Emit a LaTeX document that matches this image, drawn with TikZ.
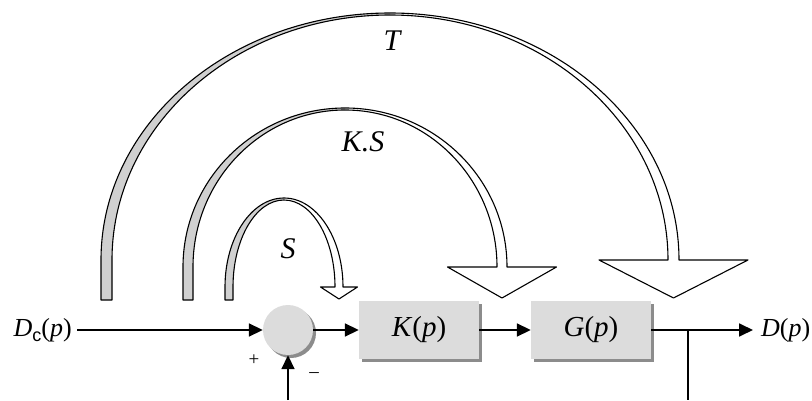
\documentclass[tikz,border=0pt]{standalone}
\usepackage{fontspec}
\setmainfont{Liberation Serif}
\newfontfamily\arialf{Liberation Sans}
\usetikzlibrary{arrows.meta,shadows}
\definecolor{boxgray}{HTML}{DCDCDC}
\definecolor{shadowgray}{HTML}{8C8C8C}
\definecolor{ribgray}{HTML}{D0D0D0}
% #1 cx, #2 cy (head top), #3 a, #4 b (outer radii), #5 ain, #6 bin (inner radii), #7 head half width, #8 tip y
\newcommand\myribbon[8]{%
  \pgfmathsetmacro\rmid{(#3+#5)/2}%
  \fill[white] (#1-#3,100) -- (#1-#3,#2) arc[start angle=180,end angle=0,x radius=#3,y radius=#4]
     -- (#1+\rmid+#7,#2) -- (#1+\rmid,#8) -- (#1+\rmid-#7,#2) -- (#1+#5,#2)
     arc[start angle=0,end angle=180,x radius=#5,y radius=#6] -- (#1-#5,100) -- cycle;
  \fill[ribgray] (#1-#3,100) -- (#1-#3,#2) arc[start angle=180,end angle=90,x radius=#3,y radius=#4]
     -- (#1,#2+#6) arc[start angle=90,end angle=180,x radius=#5,y radius=#6] -- (#1-#5,100) -- cycle;
  \draw[ribline] (#1-#3,100) -- (#1-#3,#2) arc[start angle=180,end angle=0,x radius=#3,y radius=#4]
     -- (#1+\rmid+#7,#2) -- (#1+\rmid,#8) -- (#1+\rmid-#7,#2) -- (#1+#5,#2)
     arc[start angle=0,end angle=180,x radius=#5,y radius=#6] -- (#1-#5,100) -- cycle;
}
\begin{document}
\begin{tikzpicture}[x=1pt,y=1pt,
  ribline/.style={line width=1.1pt,line join=round,black},
  sig/.style={line width=1.8pt,-{Triangle[length=14pt,width=13pt]}},
  wire/.style={line width=1.8pt},
  block/.style={fill=boxgray,minimum width=120pt,minimum height=58pt,inner sep=0pt,
    drop shadow={shadow xshift=3pt,shadow yshift=-3pt,fill=shadowgray,opacity=1},
    font=\fontsize{29}{33}\selectfont},
  sumnode/.style={circle,fill=boxgray,minimum size=50pt,inner sep=0pt,
    drop shadow={shadow xshift=3pt,shadow yshift=-3pt,fill=shadowgray,opacity=1}},
  lbl/.style={font=\fontsize{26}{30}\selectfont,inner ysep=0pt},
  arclbl/.style={font=\fontsize{30}{34}\selectfont\itshape,inner sep=0pt},
  sign/.style={font=\fontsize{19}{21}\selectfont,inner sep=0pt}]
\useasboundingbox (0,0) rectangle (812,400);

% ribbons
\myribbon{390}{140}{289}{247}{278}{245}{74.5}{102}
\myribbon{345}{133}{162}{159}{152}{157}{54.5}{102}
\myribbon{284}{113}{59}{89}{51}{87}{18.5}{101}
\node[arclbl] (lT) at (392,359) {T};
\node[arclbl] (lKS) at (363,258) {K.S};
\node[arclbl] (lS) at (288,151) {S};

% blocks
\node[sumnode] (sum) at (288,70) {};
\node[block] (K) at (419,70) {\textit{K}(\textit{p})};
\node[block] (G) at (591,70) {\textit{G}(\textit{p})};
\node[lbl,anchor=east,inner xsep=5pt] (Dc) at (77,70)
  {\textit{D}\raisebox{-5pt}{\arialf\fontsize{18}{20}\selectfont c}(\textit{p})};
\node[lbl,anchor=west,inner xsep=8pt] (Dp) at (753,70) {\textit{D}(\textit{p})};
\node[sign] (plus) at (254,40) {+};
\node[sign] (minus) at (314,25) {\textendash};

\coordinate (br) at (688,70);
\coordinate (brb) at (688,0);
\coordinate (fb) at (288,0);

\draw[sig] (Dc) -- (sum);
\draw[sig] (sum) -- (K);
\draw[sig] (K) -- (G);
\draw[sig] (G) -- (Dp);
\draw[wire] (br) -- (brb);
\draw[sig] (fb) -- (sum);
\end{tikzpicture}
\end{document}
